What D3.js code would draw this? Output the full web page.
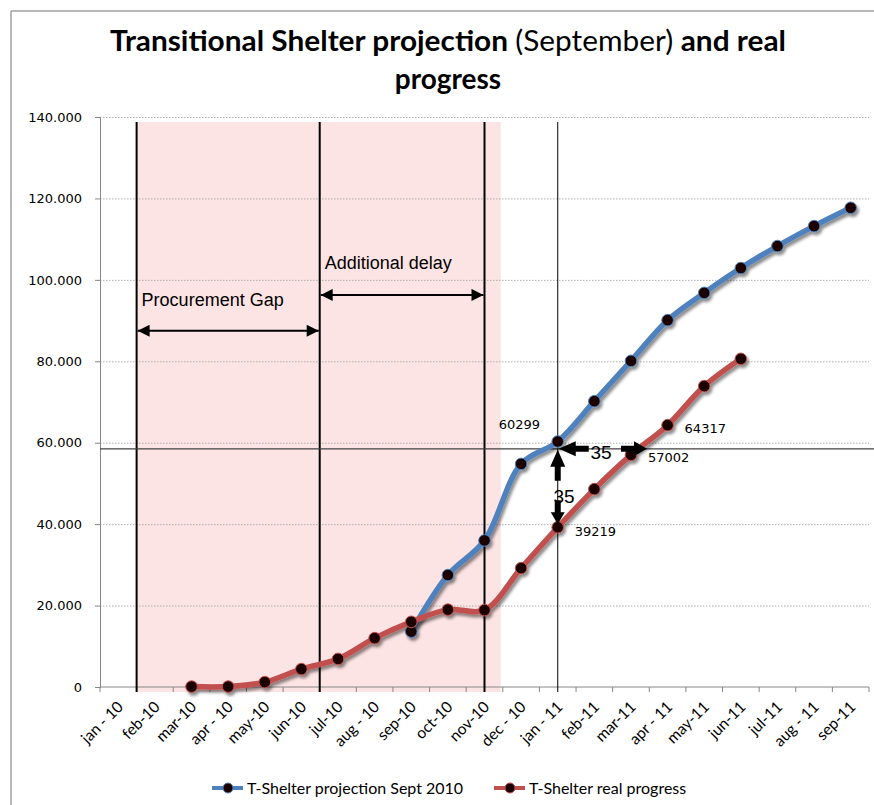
<!DOCTYPE html>
<html>
<head>
<meta charset="utf-8">
<script src="https://cdn.jsdelivr.net/npm/d3@7"></script>
<style>
body { margin: 0; background: #fff; }
</style>
</head>
<body>
<svg id="chart" width="874" height="805"></svg>
<script>
/************
** data
*************/
var months = ["jan - 10", "feb-10", "mar-10", "apr - 10", "may-10", "jun-10", "jul-10",
              "aug - 10", "sep-10", "oct-10", "nov-10", "dec - 10", "jan - 11", "feb-11",
              "mar-11", "apr - 11", "may-11", "jun-11", "jul-11", "aug - 11", "sep-11"];
var projection = [null, null, null, null, null, null, null, null,
                  13600, 27500, 36000, 54800, 60299, 70200, 80100, 90100, 96800,
                  102900, 108300, 113200, 117700];
var realProgress = [null, null, 100, 100, 1200, 4400, 6900, 12000, 16000, 19000,
                    18900, 29200, 39219, 48600, 57002, 64317, 73900, 80600,
                    null, null, null];
var yTicks = [0, 20000, 40000, 60000, 80000, 100000, 120000, 140000];
var pointLabels = [
    {series: "projection", month: "jan - 11", text: "60299"},
    {series: "real", month: "jan - 11", text: "39219"},
    {series: "real", month: "mar-11", text: "57002"},
    {series: "real", month: "apr - 11", text: "64317"}
];
var refLevel = 58500;

/************
** colors
*************/
var blue = "#4f81bd";
var red = "#c0504d";
var pink = "#fde4e4";
var gridColor = "#9a9a9a";
var axisColor = "#868686";

/************
** setup
*************/
var svg = d3.select("#chart");
var margin = {left: 100, right: 5, top: 117, bottom: 118};
var W = 874, H = 805;

var x = d3.scaleBand().domain(months).range([margin.left, 869]);
var y = d3.scaleLinear().domain([0, 140000]).range([687, 117]);
var cx = function(m) { return x(m) + x.bandwidth() / 2; };

var defs = svg.append("defs");
var shadow = defs.append("filter").attr("id", "shadow")
    .attr("x", "-20%").attr("y", "-20%").attr("width", "140%").attr("height", "140%");
shadow.append("feDropShadow").attr("dx", 2).attr("dy", 3)
    .attr("stdDeviation", 1.6).attr("flood-color", "#000").attr("flood-opacity", 0.45);

// outer frame lines
svg.append("line").attr("x1", 11).attr("x2", W).attr("y1", 11).attr("y2", 11)
    .attr("stroke", "#a0a0a0").attr("stroke-width", 1.5);
svg.append("line").attr("x1", 11).attr("x2", 11).attr("y1", 11).attr("y2", H)
    .attr("stroke", "#a0a0a0").attr("stroke-width", 1.5);

/************
** title
*************/
var title = svg.append("text").attr("x", 448).attr("y", 51)
    .attr("text-anchor", "middle")
    .style("font-family", "Lato, 'Noto Sans', sans-serif").style("font-size", "28px")
    .attr("textLength", 676).attr("lengthAdjust", "spacingAndGlyphs");
title.append("tspan").style("font-weight", "bold").text("Transitional Shelter projection ");
title.append("tspan").style("font-weight", "normal").text("(September) ");
title.append("tspan").style("font-weight", "bold").text("and real");
svg.append("text").attr("x", 448).attr("y", 89).attr("text-anchor", "middle")
    .style("font-family", "Lato, 'Noto Sans', sans-serif").style("font-size", "28px")
    .style("font-weight", "bold").text("progress");

/************
** shading + grid
*************/
svg.append("rect")
    .attr("x", x("feb-10")).attr("y", 122)
    .attr("width", x("dec - 10") - x("feb-10") - 2).attr("height", 692 - 122)
    .attr("fill", pink);

svg.append("g").selectAll("line").data(yTicks.slice(1)).enter().append("line")
    .attr("x1", margin.left).attr("x2", 869)
    .attr("y1", function(d) { return y(d) + 0.5; }).attr("y2", function(d) { return y(d) + 0.5; })
    .attr("stroke", gridColor).attr("stroke-width", 0.8).attr("stroke-dasharray", "1.5,1.5");

/************
** axes
*************/
var yAxis = d3.axisLeft(y).tickValues(yTicks).tickSize(5)
    .tickFormat(function(d) { return d === 0 ? "0" : d3.format(",")(d).replace(/,/g, "."); });
var yg = svg.append("g").attr("transform", "translate(" + margin.left + ",0)").call(yAxis);
yg.select(".domain").attr("stroke", axisColor);
yg.selectAll(".tick line").attr("stroke", axisColor);
yg.selectAll(".tick text").attr("x", -18).attr("fill", "#000")
    .style("font-family", "'DejaVu Sans', sans-serif").style("font-size", "13px");

var xg = svg.append("g").attr("transform", "translate(0,687)");
xg.append("line").attr("x1", margin.left).attr("x2", 869).attr("y1", 0).attr("y2", 0)
    .attr("stroke", axisColor);
xg.selectAll(".tk").data(months.concat(["end"])).enter().append("line")
    .attr("x1", function(d, i) { return i < months.length ? x(d) : x.range()[1]; })
    .attr("x2", function(d, i) { return i < months.length ? x(d) : x.range()[1]; })
    .attr("y1", 0).attr("y2", 5).attr("stroke", axisColor);
xg.selectAll(".lbl").data(months).enter().append("text")
    .attr("transform", function(d) { return "translate(" + (cx(d) + 2) + ",17) rotate(-45)"; })
    .attr("text-anchor", "end").attr("dy", "0.35em")
    .style("font-family", "Lato, 'Noto Sans', sans-serif").style("font-size", "15.5px")
    .text(function(d) { return d; });

/************
** annotation lines
*************/
var vLines = [
    {pos: x("feb-10"), w: 2},
    {pos: x("jul-10"), w: 2},
    {pos: cx("nov-10"), w: 2},
    {pos: cx("jan - 11"), w: 1}
];
svg.append("g").selectAll("line").data(vLines).enter().append("line")
    .attr("x1", function(d) { return d.pos; }).attr("x2", function(d) { return d.pos; })
    .attr("y1", 122).attr("y2", 692)
    .attr("stroke", "#000").attr("stroke-width", function(d) { return d.w; });

svg.append("line").attr("x1", margin.left).attr("x2", W)
    .attr("y1", y(refLevel)).attr("y2", y(refLevel))
    .attr("stroke", "#404040").attr("stroke-width", 1.2);

/************
** series
*************/
var line = d3.line()
    .defined(function(d) { return d.v != null; })
    .x(function(d) { return cx(d.m); })
    .y(function(d) { return y(d.v); })
    .curve(d3.curveCatmullRom.alpha(0.5));

var series = [
    {name: "T-Shelter projection Sept 2010", key: "projection", color: blue, values: projection},
    {name: "T-Shelter real progress", key: "real", color: red, values: realProgress}
];
series.forEach(function(s) {
    s.points = months.map(function(m, i) { return {m: m, v: s.values[i]}; });
});

var sg = svg.append("g").selectAll("g").data(series).enter().append("g")
    .attr("filter", "url(#shadow)");
sg.append("path")
    .attr("d", function(s) { return line(s.points); })
    .attr("fill", "none").attr("stroke", function(s) { return s.color; })
    .attr("stroke-width", 5.5).attr("stroke-linejoin", "round").attr("stroke-linecap", "round");
sg.selectAll("circle")
    .data(function(s) { return s.points.filter(function(p) { return p.v != null; })
        .map(function(p) { return {m: p.m, v: p.v, c: s.color}; }); })
    .enter().append("circle")
    .attr("cx", function(d) { return cx(d.m); }).attr("cy", function(d) { return y(d.v); })
    .attr("r", 5.8).attr("fill", "#1a0000")
    .attr("stroke", function(d) { return d.c; }).attr("stroke-width", 1);

/************
** point labels
*************/
var labelOffset = {
    "60299": [-59, -17], "39219": [17, 4], "57002": [17, 3], "64317": [17, 3]
};
svg.append("g").selectAll("text").data(pointLabels).enter().append("text")
    .attr("x", function(d) { return cx(d.month) + labelOffset[d.text][0]; })
    .attr("y", function(d) {
        var s = d.series === "projection" ? projection : realProgress;
        return y(s[months.indexOf(d.month)]) + labelOffset[d.text][1];
    })
    .attr("dy", "0.35em")
    .style("font-family", "'DejaVu Sans', sans-serif").style("font-size", "13px")
    .text(function(d) { return d.text; });

/************
** arrows
*************/
defs.append("marker").attr("id", "head").attr("viewBox", "0 0 10 10")
    .attr("refX", 10).attr("refY", 5).attr("markerWidth", 7).attr("markerHeight", 6)
    .attr("markerUnits", "strokeWidth").attr("orient", "auto-start-reverse")
    .append("path").attr("d", "M0,0L10,5L0,10z").attr("fill", "#000");

var spans = [
    {x1: x("feb-10"), x2: x("jul-10"), v: 87500, text: "Procurement Gap", ty: 300},
    {x1: x("jul-10"), x2: cx("nov-10"), v: 96300, text: "Additional delay", ty: 263}
];
var spanG = svg.append("g").selectAll("g").data(spans).enter().append("g");
spanG.append("line")
    .attr("x1", function(d) { return d.x1 + 1; }).attr("x2", function(d) { return d.x2 - 1; })
    .attr("y1", function(d) { return y(d.v); }).attr("y2", function(d) { return y(d.v); })
    .attr("stroke", "#000").attr("stroke-width", 2)
    .attr("marker-start", "url(#head)").attr("marker-end", "url(#head)");
spanG.append("text")
    .attr("x", function(d) { return d.x1 + 5; }).attr("y", function(d) { return d.ty; })
    .attr("dy", "0.35em")
    .style("font-family", "'Liberation Sans', Arial, sans-serif").style("font-size", "18px")
    .text(function(d) { return d.text; });

// block arrow: tip at (tx,ty), pointing along direction (dx,dy), length len
function blockArrow(tx, ty, dx, dy, len, headLen, headW, shaftW) {
    var px = -dy, py = dx;
    var pts = [
        [0, 0], [-headLen, headW / 2], [-headLen, shaftW / 2], [-len, shaftW / 2],
        [-len, -shaftW / 2], [-headLen, -shaftW / 2], [-headLen, -headW / 2]
    ].map(function(p) {
        return [tx + p[0] * dx + p[1] * px, ty + p[0] * dy + p[1] * py];
    });
    svg.append("polygon").attr("points", pts.map(function(p) { return p.join(","); }).join(" "))
        .attr("fill", "#000");
}
var jx = cx("jan - 11"), ref = y(refLevel);
blockArrow(jx + 1, ref, -1, 0, 30, 17, 15, 6);
blockArrow(cx("mar-11") + 16, ref, 1, 0, 26, 13, 15, 6);
blockArrow(jx, ref + 1, 0, -1, 31, 17, 15, 6);
blockArrow(jx, y(39219) - 3, 0, 1, 24, 12, 14, 6);

var gapTexts = [{x: 601, y: 452}, {x: 564, y: 496}];
svg.append("g").selectAll("text").data(gapTexts).enter().append("text")
    .attr("x", function(d) { return d.x; }).attr("y", function(d) { return d.y; })
    .attr("text-anchor", "middle").attr("dy", "0.35em")
    .style("font-family", "'Liberation Sans', Arial, sans-serif").style("font-size", "19px")
    .text("35");

/************
** legend
*************/
var legend = svg.append("g").selectAll("g").data(series).enter().append("g")
    .attr("transform", function(d, i) { return "translate(" + (i === 0 ? 212 : 494) + ",788)"; });
legend.append("line").attr("x1", 0).attr("x2", 31).attr("y1", 0).attr("y2", 0)
    .attr("stroke", function(d) { return d.color; }).attr("stroke-width", 4);
legend.append("circle").attr("cx", 16).attr("cy", 0).attr("r", 5)
    .attr("fill", "#1a0000").attr("stroke", function(d) { return d.color; });
legend.append("text").attr("x", 35).attr("y", 0).attr("dy", "0.35em")
    .style("font-family", "Lato, 'Noto Sans', sans-serif").style("font-size", "16px")
    .text(function(d) { return d.name; });
</script>
</body>
</html>
